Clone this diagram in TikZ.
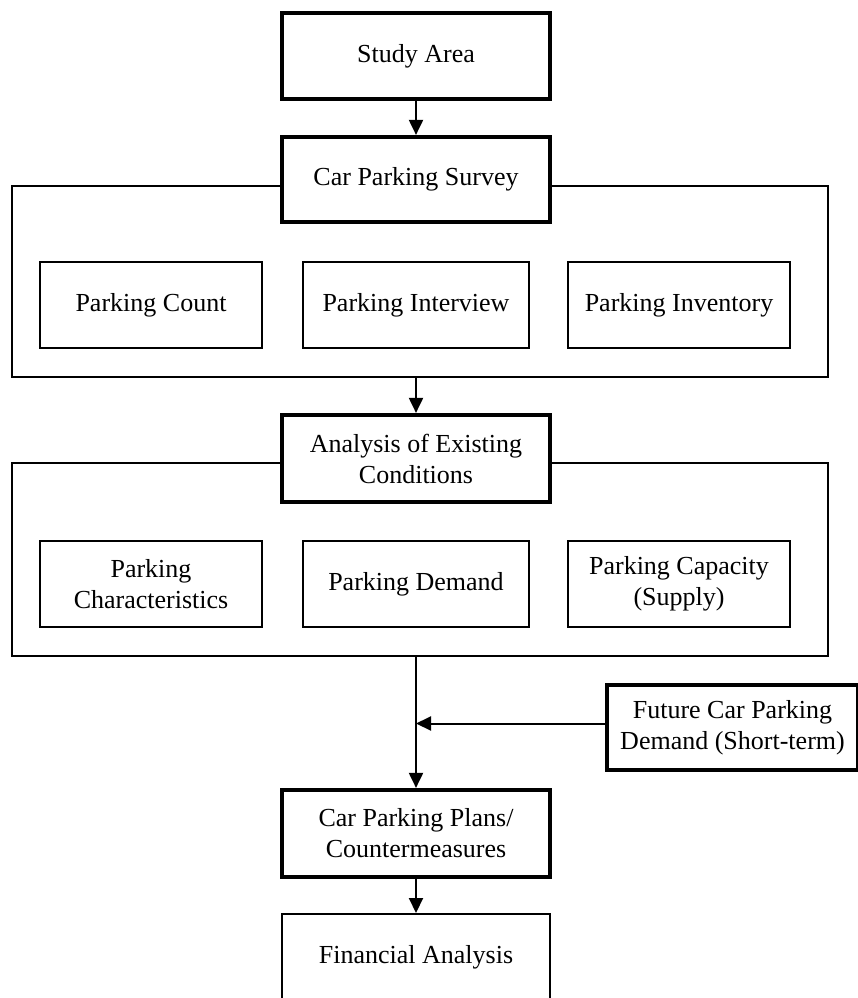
\documentclass[tikz,border=0pt]{standalone}
\usepackage{fontspec}
\setmainfont{Liberation Serif}
\usetikzlibrary{arrows.meta}
\begin{document}
\begin{tikzpicture}[x=1bp,y=-1bp,
  every node/.style={font=\fontsize{26bp}{31bp}\selectfont, align=center, inner sep=0pt},
  thinbox/.style={draw, line width=2bp, fill=white, minimum width=222bp, minimum height=86bp},
  thickbox/.style={draw, line width=4.2bp, fill=white, minimum width=268bp, minimum height=86bp},
  framebox/.style={draw, line width=2bp},
  arr/.style={line width=2bp, -{Triangle[length=15bp,width=14bp]}}]
\useasboundingbox (0,0) rectangle (858,998);
\clip (0,0) rectangle (858,998);
% frames
\draw[framebox] (12,186) rectangle (828,377);
\draw[framebox] (12,463) rectangle (828,656);
\coordinate (f1b) at (416,377);
\coordinate (f2b) at (416,656);
% main column
\node[thickbox] (study) at (416,56) {Study Area};
\node[thickbox, minimum height=85bp] (survey) at (416,179.5) {Car Parking Survey};
\node[thinbox] (count) at (151,305) {Parking Count};
\node[thinbox, minimum width=226bp] (interview) at (416,305) {Parking Interview};
\node[thinbox] (inventory) at (679,305) {Parking Inventory};
\node[thickbox, minimum height=87bp] (analysis) at (416,458.5) {Analysis of Existing\\Conditions};
\node[thinbox] (charac) at (151,584) {Parking\\Characteristics};
\node[thinbox, minimum width=226bp] (demand) at (416,584) {Parking Demand};
\node[thinbox] (capacity) at (679,584) {Parking Capacity\\(Supply)};
\node[thickbox, minimum width=251bp, minimum height=85bp] (future) at (732.5,727.5) {Future Car Parking\\Demand (Short-term)};
\node[thickbox, minimum height=87bp] (plans) at (416,833.5) {Car Parking Plans/\\Countermeasures};
\node[thinbox, minimum width=268bp] (financial) at (416,957) {Financial Analysis};
% connectors
\draw[arr] (study.south) -- (survey.north);
\draw[arr] (f1b) -- (analysis.north);
\draw[arr] (f2b) -- (plans.north);
\coordinate (fw) at ([yshift=4bp]future.west);
\coordinate (join) at (plans.north |- fw);
\draw[arr] (fw) -- (join);
\draw[arr] (plans.south) -- (financial.north);
\end{tikzpicture}
\end{document}
